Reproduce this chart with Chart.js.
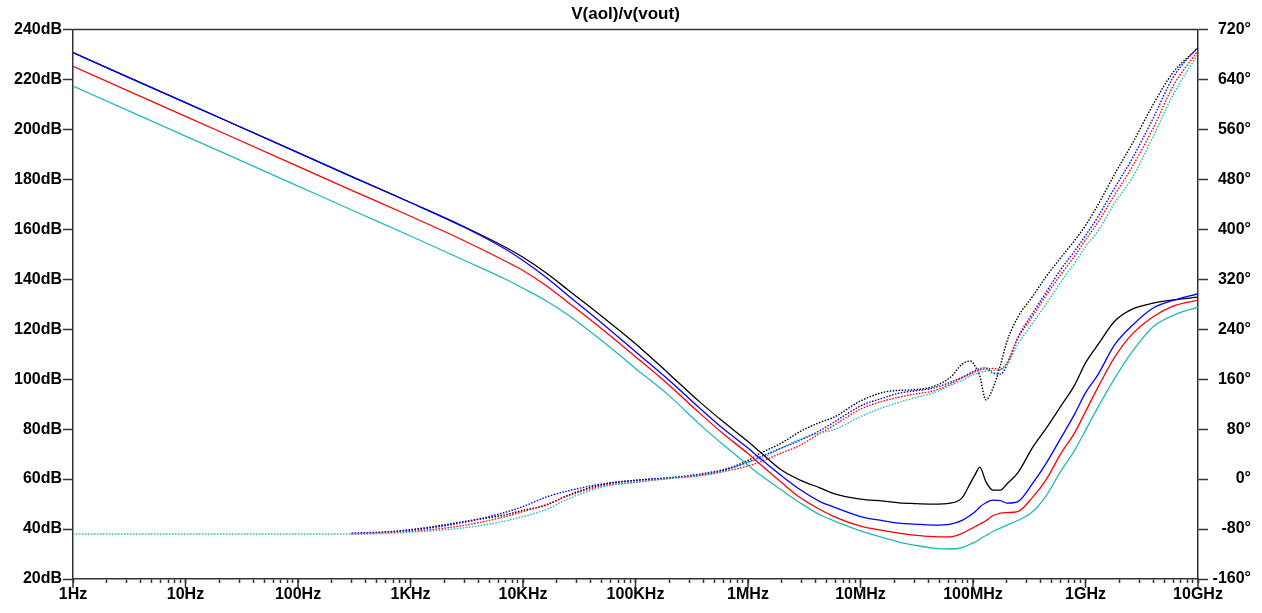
<!DOCTYPE html>
<html>
<head>
<meta charset="utf-8">
<title>V(aol)/v(vout)</title>
<script src="https://cdn.jsdelivr.net/npm/chart.js@4.4.1/dist/chart.umd.min.js"></script>
<style>
  html, body { margin: 0; padding: 0; background: #fff; }
  #wrap { width: 1262px; height: 613px; position: relative; }
</style>
</head>
<body>
<div id="wrap"><canvas id="bode"></canvas></div>
<script>
// frequency points (Hz), shared by every trace
const freqHz = [1, 10, 100, 300, 1e3, 3e3, 7e3, 1e4, 1.6e4, 2.5e4,
  5e4, 1e5, 2e5, 3.7e5, 6e5, 1e6, 1.3e6, 2e6, 2.9e6, 4.4e6,
  5.8e6, 1e7, 1.6e7, 2.2e7, 3e7, 4.4e7, 6.3e7, 8e7, 9.5e7, 1.05e8,
  1.15e8, 1.3e8, 1.5e8, 1.75e8, 2e8, 2.5e8, 3.4e8, 4.5e8, 6e8, 8e8,
  1e9, 1.3e9, 1.8e9, 2.6e9, 4e9, 6e9, 1e10];

// magnitude, dB (solid)
const magBlack = [230.7, 210.7, 190.7, 181.1, 170.7, 161.0, 152.8, 148.8, 142.6, 135.8,
  125.2, 114.2, 102, 91, 83, 75, 70.6, 63.5, 59.6, 56.4,
  54.2, 52, 51.2, 50.5, 50.2, 50, 50.4, 52.5, 58.5, 62,
  64.8, 59, 55.6, 55.6, 58, 62.5, 72.8, 80.5, 89, 97.6,
  106.5, 114, 123, 128, 130.4, 131.7, 132.8];
const magBlue = [230.7, 210.7, 190.7, 181.1, 170.7, 160.8, 152, 147.5, 140.8, 133.6,
  122.5, 111, 99.5, 88.5, 80.2, 72.4, 68, 61.2, 55.8, 50.9,
  48.8, 45, 43.3, 42.4, 42, 41.6, 42, 43.5, 45.5, 47,
  48.8, 50.5, 51.6, 51.4, 50.4, 51, 58.4, 66.5, 76.2, 86,
  94.5, 102, 113.5, 121.5, 128.5, 131.5, 134.2];
const magRed = [225.2, 205.2, 185.2, 175.6, 165.2, 155.4, 147.2, 143.5, 137.5, 130.8,
  120.2, 109, 97.5, 86.5, 78.2, 70.2, 65.7, 58.5, 52.6, 47.7,
  45, 41.2, 39.4, 38.4, 37.6, 37, 36.9, 38.3, 40, 41,
  42, 43.3, 45.3, 46.4, 46.6, 47, 52.8, 60, 70, 78.5,
  87, 97, 108.5, 118, 125, 129.2, 131.6];
const magCyan = [217.3, 197.3, 177.3, 167.7, 157.3, 147.6, 140, 136.4, 131.4, 125.8,
  115.5, 104.3, 93.3, 82, 73.8, 65.6, 61.5, 55.5, 50.5, 45.6,
  43.3, 39.3, 36.5, 34.8, 33.6, 32.4, 32, 32.6, 34, 34.8,
  36, 37.4, 39, 40.4, 41.5, 43.4, 47, 53.5, 63, 71.5,
  79.5, 89, 100, 111, 121, 125.5, 128.8];

// phase, degrees (dotted)
const phBlack = [-88, -88, -88, -87.5, -81, -68, -57, -50, -42, -26,
  -9, -2, 2, 6, 14, 30, 41.6, 58, 76, 91,
  99, 125, 139, 142, 143, 148, 163, 184, 189, 180,
  165, 127, 145, 182, 220, 259, 293, 325, 354, 382,
  406, 440, 487, 537, 600, 651, 690];
const phBlue = [-88, -88, -88, -86.5, -82, -69, -53, -44, -29, -19,
  -8, -2, 2, 8, 15, 27, 36, 50, 62, 78,
  91, 117, 130, 137.6, 141, 145.6, 155, 163, 170, 174,
  177, 178, 170, 168, 182, 226, 266, 300, 335, 365,
  390, 421, 465, 513, 578, 643, 692];
const phRed = [-88, -88, -88, -87.5, -84, -74, -60, -52, -41, -27,
  -11, -5, 1, 6, 12, 21, 28, 42, 54, 73.6,
  86, 112, 125, 131, 136, 141, 152, 162, 168, 172,
  175, 176, 177, 176, 186, 225, 261, 295, 327, 357,
  383, 412, 454, 500, 562, 629, 686];
const phCyan = [-88, -88, -88, -88, -85, -78, -67, -60, -49, -32,
  -13, -5, 1, 5, 12, 27, 33, 50, 64, 74,
  79, 100, 115, 123, 130, 137.6, 150, 158, 165, 168,
  171, 173, 174, 175, 184, 215, 250, 281, 315, 346,
  372, 398, 441, 482, 549, 615, 681];

// axes
const decadeValues = [1, 10, 100, 1e3, 1e4, 1e5, 1e6, 1e7, 1e8, 1e9, 1e10];
const decadeLabels = ['1Hz', '10Hz', '100Hz', '1KHz', '10KHz', '100KHz', '1MHz', '10MHz', '100MHz', '1GHz', '10GHz'];
const dbTicks = [20, 40, 60, 80, 100, 120, 140, 160, 180, 200, 220, 240];
const degTicks = [-160, -80, 0, 80, 160, 240, 320, 400, 480, 560, 640, 720];

const AXIS = '#333333';
const COLORS = { black: '#000000', blue: '#0000ff', red: '#ff0000', cyan: '#22b8b8' };

Chart.defaults.font.family = 'Arial, "Liberation Sans", sans-serif';
Chart.defaults.font.size = 16;
Chart.defaults.font.weight = 'bold';
Chart.defaults.color = '#000';

function trace(vals, color, axis, dotted, hideFlat) {
  const ds = {
    data: freqHz.map((f, i) => ({ x: f, y: vals[i] })),
    borderColor: color,
    borderWidth: dotted ? 1.4 : 1.3,
    borderDash: dotted ? [1.5, 1.5] : [],
    pointRadius: 0,
    fill: false,
    cubicInterpolationMode: 'monotone',
    yAxisID: axis
  };
  // where the phase traces lie exactly on each other only the top one shows
  if (hideFlat) {
    ds.segment = { borderColor: c => (c.p1.parsed.x <= 300 ? 'rgba(0,0,0,0)' : color) };
  }
  return ds;
}

// minor tick positions 1..9 per decade
const logTicks = [];
decadeValues.slice(0, -1).forEach(d => {
  for (let m = 1; m <= 9; m++) logTicks.push(d * m);
});
logTicks.push(1e10);

// top border and the longer decade ticks
const frame = {
  id: 'frame',
  afterDraw(chart) {
    const { ctx, chartArea: a, scales: { x } } = chart;
    ctx.save();
    ctx.strokeStyle = AXIS;
    ctx.lineWidth = 1.5;
    ctx.beginPath();
    ctx.moveTo(a.left, a.top);
    ctx.lineTo(a.right, a.top);
    decadeValues.forEach(v => {
      const px = x.getPixelForValue(v);
      ctx.moveTo(px, a.bottom);
      ctx.lineTo(px, a.bottom + 9);
    });
    ctx.stroke();
    ctx.restore();
  }
};

new Chart(document.getElementById('bode'), {
  type: 'line',
  data: {
    datasets: [
      trace(magBlue, COLORS.blue, 'y', false),
      trace(magBlack, COLORS.black, 'y', false),
      trace(magRed, COLORS.red, 'y', false),
      trace(magCyan, COLORS.cyan, 'y', false),
      trace(phCyan, COLORS.cyan, 'y1', true),
      trace(phRed, COLORS.red, 'y1', true, true),
      trace(phBlue, COLORS.blue, 'y1', true, true),
      trace(phBlack, COLORS.black, 'y1', true, true)
    ]
  },
  options: {
    responsive: true,
    maintainAspectRatio: false,
    animation: false,
    layout: { padding: { left: 0, right: 11, top: 0, bottom: 0 } },
    plugins: {
      legend: { display: false },
      tooltip: { enabled: false },
      title: {
        display: true,
        text: 'V(aol)/v(vout)',
        font: { size: 17, weight: 'bold' },
        color: '#000',
        padding: { top: 4, bottom: 5 }
      }
    },
    scales: {
      x: {
        type: 'logarithmic',
        min: 1,
        max: 1e10,
        afterBuildTicks: s => { s.ticks = logTicks.map(v => ({ value: v })); },
        afterFit: s => { s.height = 34; },
        ticks: {
          autoSkip: false,
          maxRotation: 0,
          padding: 2,
          callback: v => {
            const i = decadeValues.indexOf(v);
            return i >= 0 ? decadeLabels[i] : '';
          }
        },
        grid: { drawOnChartArea: false, drawTicks: true, tickLength: 4, tickWidth: 1.5, tickColor: AXIS },
        border: { display: true, color: AXIS, width: 1.5 }
      },
      y: {
        position: 'left',
        min: 20,
        max: 240,
        afterBuildTicks: s => { s.ticks = dbTicks.map(v => ({ value: v })); },
        afterFit: s => { s.width = 73; },
        ticks: { padding: 1, callback: v => v + 'dB' },
        grid: { drawOnChartArea: false, drawTicks: true, tickLength: 10, tickWidth: 1.5, tickColor: AXIS },
        border: { display: true, color: AXIS, width: 1.5 }
      },
      y1: {
        position: 'right',
        min: -160,
        max: 720,
        afterBuildTicks: s => { s.ticks = degTicks.map(v => ({ value: v })); },
        afterFit: s => { s.width = 53; },
        ticks: { padding: 4, crossAlign: 'far', callback: v => v + '°' },
        grid: { drawOnChartArea: false, drawTicks: true, tickLength: 10, tickWidth: 1.5, tickColor: AXIS },
        border: { display: true, color: AXIS, width: 1.5 }
      }
    }
  },
  plugins: [frame]
});
</script>
</body>
</html>
